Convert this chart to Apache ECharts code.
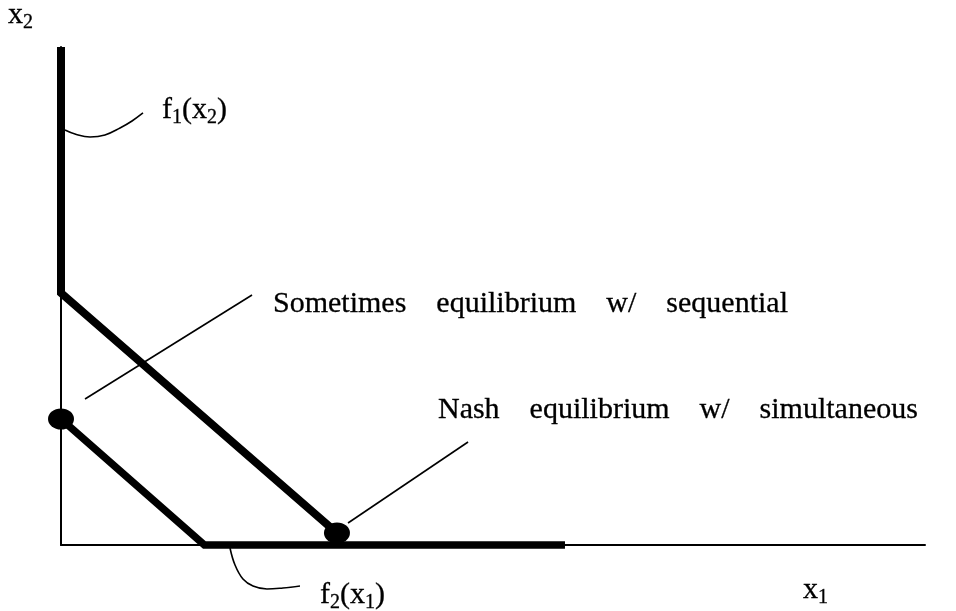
<!DOCTYPE html>
<html><head><meta charset="utf-8">
<script src="https://cdn.jsdelivr.net/npm/echarts@6/dist/echarts.min.js"></script>
<style>html,body{margin:0;padding:0;background:#fff}#c{width:956px;height:611px}</style>
</head><body><div id="c"></div>
<script>
// Reaction curves (data units: x1 0..100, x2 0..100)
const f1Curve = [[0, 100], [0, 50.6], [31.94, 2.41]];
const f2Curve = [[0, 25.3], [16.6, 0], [58.33, 0]];
const equilibriumPoints = [[0, 25.3], [31.94, 2.41]];
// Annotation leader lines
const leaderF1 = [[0.46, 83.33], [1.62, 82.53], [3.36, 81.93], [5.09, 82.33], [6.83, 83.73], [8.22, 85.14], [9.49, 86.75]];
const leaderSometimes = [[2.78, 29.32], [22.11, 50.2]];
const leaderNash = [[33.22, 4.42], [47.11, 20.68]];
const leaderF2 = [[19.56, -0.6], [20.14, -4.02], [21.06, -6.83], [22.22, -8.23], [23.84, -8.84], [25.69, -8.63], [27.66, -8.23]];
// Text labels and their anchors
const labelTexts = [
  '{m|x}{s|2}',
  '{m|f}{s|1}{m|(x}{s|2}{m|)}',
  'Sometimes    equilibrium    w/    sequential',
  'Nash    equilibrium    w/    simultaneous',
  '{m|f}{s|2}{m|(x}{s|1}{m|)}',
  '{m|x}{s|1}'
];
const labelAnchors = [[-6.13, 106.4], [11.69, 87.35], [24.54, 48.39], [43.63, 27.11], [29.98, -10.04], [85.88, -9.04]];

const FONT = "'Liberation Serif','Times New Roman',serif";
const chart = echarts.init(document.getElementById('c'), null, {renderer: 'canvas'});

function thick(data, w) {
  return {type: 'line', data: data, symbol: 'none', silent: true, clip: false,
    lineStyle: {color: '#000', width: w, cap: 'butt', join: 'miter', opacity: 1}, z: 3};
}
function thin(data, smooth) {
  return {type: 'line', data: data, symbol: 'none', silent: true, clip: false, smooth: smooth ? 0.4 : false,
    lineStyle: {color: '#000', width: 1.6, opacity: 1}, z: 2};
}

chart.setOption({
  animation: false,
  backgroundColor: '#fff',
  grid: {left: 61, right: 31, top: 47, bottom: 66, containLabel: false},
  xAxis: {type: 'value', min: 0, max: 100,
    axisLine: {show: true, onZero: true, lineStyle: {color: '#000', width: 2}},
    axisTick: {show: false}, axisLabel: {show: false}, splitLine: {show: false}},
  yAxis: {type: 'value', min: 0, max: 100,
    axisLine: {show: true, onZero: true, lineStyle: {color: '#000', width: 2}},
    axisTick: {show: false}, axisLabel: {show: false}, splitLine: {show: false}},
  series: [
    thick(f1Curve, 8),
    thick(f2Curve, 7.5),
    thin(leaderF1, true),
    thin(leaderSometimes, false),
    thin(leaderNash, false),
    thin(leaderF2, true),
    {type: 'scatter', data: equilibriumPoints, symbol: 'circle', symbolSize: [26, 21], silent: true, clip: false,
      itemStyle: {color: '#000', opacity: 1}, z: 5},
    {type: 'scatter', symbolSize: 0, silent: true, clip: false, z: 6,
      itemStyle: {opacity: 1},
      data: labelAnchors.map((p, i) => ({value: p, label: {formatter: labelTexts[i]}})),
      label: {show: true, position: 'right', distance: 0, color: '#000', opacity: 1,
        fontFamily: FONT, fontSize: 30, lineHeight: 35,
        textBorderColor: '#000', textBorderWidth: 0.3,
        rich: {
          m: {fontFamily: FONT, fontSize: 30, lineHeight: 35, color: '#000', textBorderColor: '#000', textBorderWidth: 0.3},
          s: {fontFamily: FONT, fontSize: 20, lineHeight: 18, verticalAlign: 'bottom', color: '#000', textBorderColor: '#000', textBorderWidth: 0.3}
        }}}
  ]
});
</script></body></html>
